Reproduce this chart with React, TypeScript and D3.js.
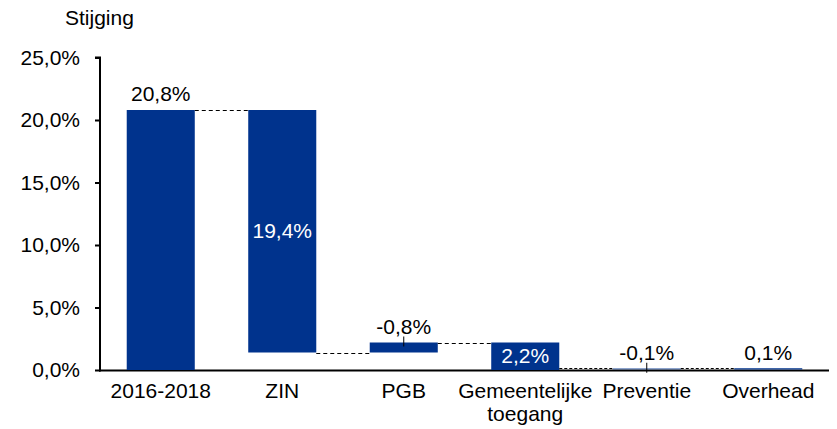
import { useEffect, useRef } from "react";
import * as d3 from "d3";

const categories = ["2016-2018", "ZIN", "PGB", "Gemeentelijke toegang", "Preventie", "Overhead"];
const barStart = [0, 1.4, 1.4, 0, 0, 0];
const barEnd = [20.8, 20.8, 2.2, 2.2, 0.1, 0.1];
const barLabels = ["20,8%", "19,4%", "-0,8%", "2,2%", "-0,1%", "0,1%"];
const labelInside = [false, true, false, true, false, false];
const leaderLine = [false, false, true, false, true, false];
const yTicks = [0, 5, 10, 15, 20, 25];

const width = 837;
const height = 429;
const FONT = "'Liberation Sans', Arial, sans-serif";
const BLUE = "#00338d";

export default function App() {
  const svgRef = useRef<SVGSVGElement>(null);

  useEffect(() => {
    const svg = d3.select(svgRef.current);
    svg.selectAll("*").remove();

    const x = d3.scaleBand().domain(categories).range([100, 829]).paddingInner(0.44).paddingOuter(0.22);
    const y = d3.scaleLinear().domain([0, 25]).range([370, 57.5]);

    // title
    svg.append("text")
      .attr("x", 65).attr("y", 25)
      .attr("font-family", FONT).attr("font-size", 21)
      .text("Stijging");

    // x axis line (under the bars so the tiny ones stay visible)
    svg.append("line")
      .attr("x1", 99).attr("x2", 829)
      .attr("y1", y(0) + 0.5).attr("y2", y(0) + 0.5)
      .attr("stroke", "#000").attr("stroke-width", 2);

    // bars
    svg.append("g")
      .selectAll("rect")
      .data(categories)
      .join("rect")
      .attr("x", (d) => x(d)!)
      .attr("width", x.bandwidth())
      .attr("y", (d, i) => y(Math.max(barStart[i], barEnd[i])) - (barEnd[i] - barStart[i] < 0.5 ? 0.5 : 0))
      .attr("height", (d, i) => Math.abs(y(barStart[i]) - y(barEnd[i])))
      .attr("fill", BLUE)
      .attr("fill-opacity", (d) => (d === "Preventie" ? 0.6 : 1));

    // dashed connectors between bars
    const conn = svg.append("g");
    categories.slice(0, -1).forEach((c, i) => {
      const next = categories[i + 1];
      const lvl = [barStart[i], barEnd[i]].find((v) => v === barStart[i + 1] || v === barEnd[i + 1]) ?? barEnd[i];
      const yy = lvl === 0 ? y(0) - 1.5 : Math.round(y(lvl)) + 0.5;
      conn.append("line")
        .attr("x1", x(c)! + x.bandwidth())
        .attr("x2", x(next)!)
        .attr("y1", yy)
        .attr("y2", yy)
        .attr("stroke", "#000")
        .attr("stroke-width", 1)
        .attr("stroke-dasharray", lvl === 0 ? "3,2" : "4,3");
    });

    // labels
    const lab = svg.append("g").attr("font-family", FONT).attr("font-size", 21).attr("text-anchor", "middle");
    categories.forEach((c, i) => {
      const cx = x(c)! + x.bandwidth() / 2;
      const top = y(Math.max(barStart[i], barEnd[i]));
      if (labelInside[i]) {
        const mid = y((barStart[i] + barEnd[i]) / 2);
        lab.append("text").attr("x", cx).attr("y", mid).attr("dy", "0.33em").attr("fill", "#fff").text(barLabels[i]);
      } else {
        lab.append("text").attr("x", cx).attr("y", top - 9).attr("fill", "#000").text(barLabels[i]);
        if (leaderLine[i]) {
          svg.append("line")
            .attr("x1", cx).attr("x2", cx)
            .attr("y1", top - 6).attr("y2", top + 4)
            .attr("stroke", "#000").attr("stroke-width", 1);
        }
      }
    });

    // y axis
    const yAxis = svg.append("g")
      .attr("transform", "translate(100,0)")
      .call(d3.axisLeft(y).tickValues(yTicks).tickSize(5).tickPadding(15)
        .tickFormat((d) => d3.format(".1f")(d as number).replace(".", ",") + "%"));
    yAxis.select(".domain").attr("stroke", "#000").attr("stroke-width", 2).attr("d", `M-5,${y(25)}H0V${y(0) + 1.5}`);
    yAxis.selectAll(".tick line").attr("stroke", "#000").attr("stroke-width", 2);
    yAxis.selectAll(".tick text").attr("font-family", FONT).attr("font-size", 21).attr("fill", "#000");

    // x labels
    const xl = svg.append("g").attr("font-family", FONT).attr("font-size", 21).attr("text-anchor", "middle");
    categories.forEach((c) => {
      const cx = x(c)! + x.bandwidth() / 2;
      const words = c === "Gemeentelijke toegang" ? c.split(" ") : [c];
      const t = xl.append("text").attr("x", cx).attr("y", 398);
      words.forEach((w, k) => {
        t.append("tspan").attr("x", cx).attr("dy", k === 0 ? 0 : 23).text(w);
      });
    });
  }, []);

  return (
    <svg ref={svgRef} width={width} height={height} viewBox={`0 0 ${width} ${height}`}
      style={{ position: "absolute", left: 0, top: 0, background: "#fff" }} />
  );
}
